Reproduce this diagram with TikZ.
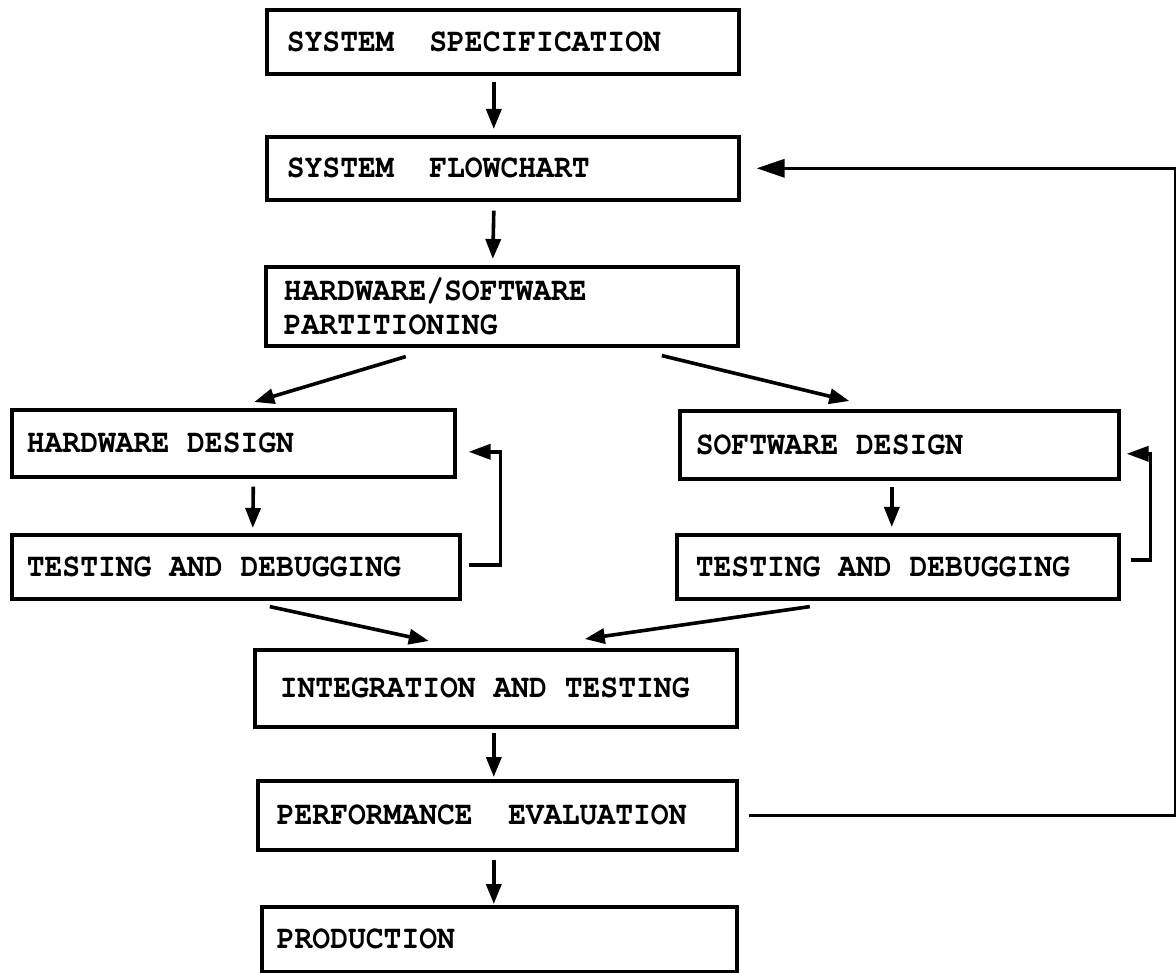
\documentclass[tikz,border=0pt]{standalone}
\usepackage{fontspec}
\newfontfamily\tw{texgyrecursor}[Extension=.otf, UprightFont=*-regular, BoldFont=*-bold, FakeStretch=0.9]
\usetikzlibrary{arrows.meta,calc}
\newcommand\gap{\hspace{17.8pt}}
\begin{document}
\begin{tikzpicture}[x=1pt,y=-1pt,
  box/.style={draw, line width=3.6pt, rectangle, anchor=north west,
    inner ysep=0pt, align=left,
    font=\tw\bfseries\fontsize{33}{34}\selectfont},
  arr/.style={line width=3.6pt, -{Triangle[length=20pt,width=15pt]}},
  fb/.style={line width=3.6pt, -{Triangle[length=22pt,width=15pt]}},
  bigfb/.style={line width=3.4pt, -{Triangle[length=28pt,width=18pt]}}]
\useasboundingbox (0,0) rectangle (1176,973);

\node[box, minimum width=472pt, minimum height=64pt, inner xsep=20pt, text width=432pt] (spec) at (265,8) {SYSTEM\gap\gap SPECIFICATION};
\node[box, minimum width=472pt, minimum height=63pt, inner xsep=20pt, text width=432pt] (flow) at (265,135) {SYSTEM\gap\gap FLOWCHART};
\node[box, minimum width=472pt, minimum height=79pt, inner xsep=18pt, text width=436pt] (part) at (264,265) {HARDWARE/SOFTWARE\\PARTITIONING};
\node[box, minimum width=443pt, minimum height=67pt, inner xsep=15pt, text width=413pt] (hw) at (10,408) {HARDWARE\gap DESIGN};
\node[box, minimum width=448pt, minimum height=64pt, inner xsep=15pt, text width=418pt] (tdl) at (10,533) {TESTING\gap AND\gap DEBUGGING};
\node[box, minimum width=439pt, minimum height=68pt, inner xsep=16pt, text width=407pt] (sw) at (678,409) {SOFTWARE\gap DESIGN};
\node[box, minimum width=442pt, minimum height=64pt, inner xsep=19pt, text width=404pt] (tdr) at (675,533) {TESTING\gap AND\gap DEBUGGING};
\node[box, minimum width=482pt, minimum height=77pt, inner xsep=25pt, text width=432pt] (integ) at (253,648) {INTEGRATION\gap AND\gap TESTING};
\node[box, minimum width=479pt, minimum height=69pt, inner xsep=19pt, text width=441pt] (perf) at (256,779) {PERFORMANCE\gap\gap EVALUATION};
\node[box, minimum width=475pt, minimum height=65pt, inner xsep=15pt, text width=445pt] (prod) at (260,905) {PRODUCTION};

% main vertical arrows
\draw[arr] ($(spec.south)+(-9,6)$) -- ($(flow.north)+(-9,-6)$);
\draw[arr] ($(flow.south)+(-9,9)$) -- ($(part.north)+(-9,-6)$);
\draw[arr] ($(hw.south)+(20,8)$) -- ($(tdl.north)+(17,-5)$);
\draw[arr] ($(sw.south)+(-7.5,6)$) -- ($(tdr.north)+(-6,-6)$);
\draw[arr] ($(integ.south)+(-2,4)$) -- ($(perf.north)+(-3.5,-2)$);
\draw[arr] ($(perf.south)+(-3.5,8)$) -- ($(prod.north)+(-5.5,-1)$);

% slanted arrows
\draw[arr] ($(part.south)+(-96,9)$) -- ($(hw.north)+(21,-6)$);
\draw[arr] ($(part.south)+(160,8)$) -- ($(sw.north)+(-50,-8)$);
\draw[arr] ($(tdl.south)+(34,6)$) -- ($(integ.north)+(-67,-7)$);
\draw[arr] ($(tdr.south)+(-88,6)$) -- ($(integ.north)+(89,-9)$);

% feedback loops
\draw[fb] ($(tdl.east)+(7,-2)$) -- ++(32,0) |- ($(hw.east)+(12,8.5)$);
\draw[fb] ($(tdr.east)+(10,-7)$) -- ++(20,0) |- ($(sw.east)+(6,9)$);
\draw[bigfb] ($(perf.east)+(10,0)$) -- ++(427,0) |- ($(flow.east)+(16,0)$);
\end{tikzpicture}
\end{document}
